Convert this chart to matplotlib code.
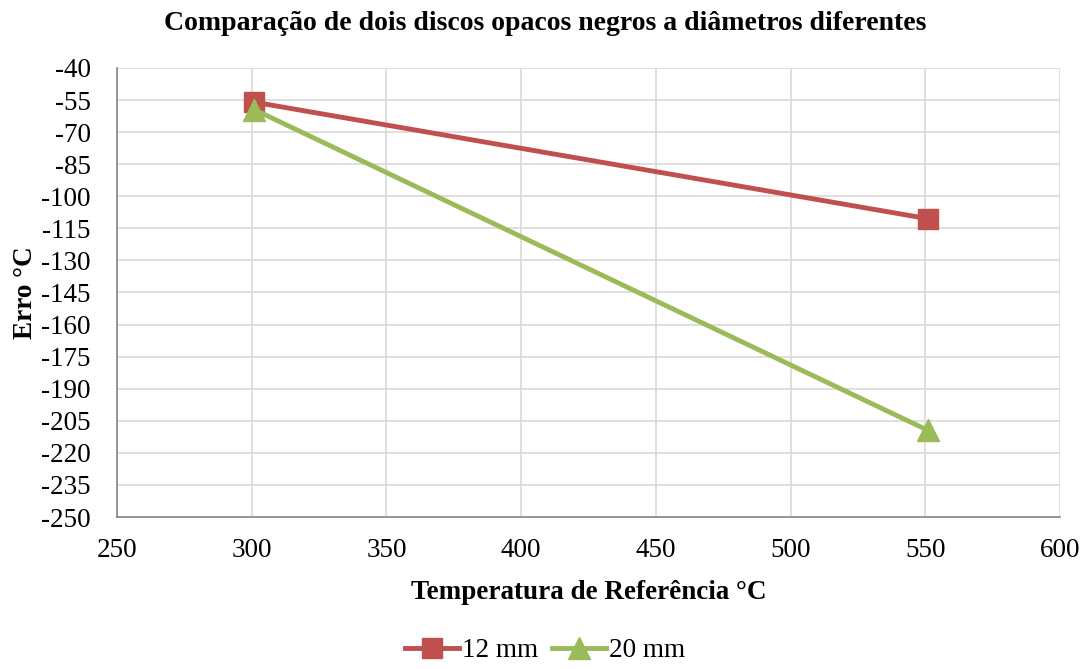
import matplotlib.pyplot as plt

plt.rcParams['font.family'] = ['Liberation Serif', 'DejaVu Serif']
plt.rcParams['axes.unicode_minus'] = False

# reference temperature (°C) and measured error (°C) per disc diameter
temp_ref = [301, 551]
erro_12mm = [-56, -110.5]
erro_20mm = [-59.5, -209.5]

x_ticks = list(range(250, 601, 50))
y_ticks = list(range(-250, -39, 15))

red = '#C0504D'
green = '#9BBB59'

fig = plt.figure(figsize=(10.9, 6.69), dpi=100)
ax = fig.add_axes([0.1073, 0.2272, 0.8652, 0.6712])

ax.plot(temp_ref, erro_12mm, color=red, lw=3.5, marker='s', ms=14.5,
        label='12 mm', zorder=3)
ax.plot(temp_ref, erro_20mm, color=green, lw=3.5, marker='^', ms=16,
        label='20 mm', zorder=4)

ax.set_xlim(250, 600)
ax.set_ylim(-250, -40)
ax.set_xticks(x_ticks)
ax.set_yticks(y_ticks)
ax.grid(True, color='#D9D9D9', lw=1.2)
ax.set_axisbelow(True)
for s in ['top', 'right']:
    ax.spines[s].set_visible(False)
for s in ['left', 'bottom']:
    ax.spines[s].set_color('#868686')
    ax.spines[s].set_linewidth(1.2)
ax.tick_params(axis='both', labelsize=19.5, length=0)
ax.tick_params(axis='y', pad=19)
ax.tick_params(axis='x', pad=15)

fig.text(0.5, 0.965, 'Comparação de dois discos opacos negros a diâmetros diferentes',
         fontsize=20, fontweight='bold', ha='center', va='center')
ax.set_xlabel('Temperatura de Referência °C', fontsize=19.5, fontweight='bold',
              labelpad=12)
ax.set_ylabel('Erro °C', fontsize=19.5, fontweight='bold', labelpad=2)

fig.legend(loc='lower center', bbox_to_anchor=(0.5, -0.028), ncol=2,
           frameon=False, fontsize=19.5, handlelength=2.0, columnspacing=0.5,
           handletextpad=0.1)

fig.savefig('out.png', dpi=100)
